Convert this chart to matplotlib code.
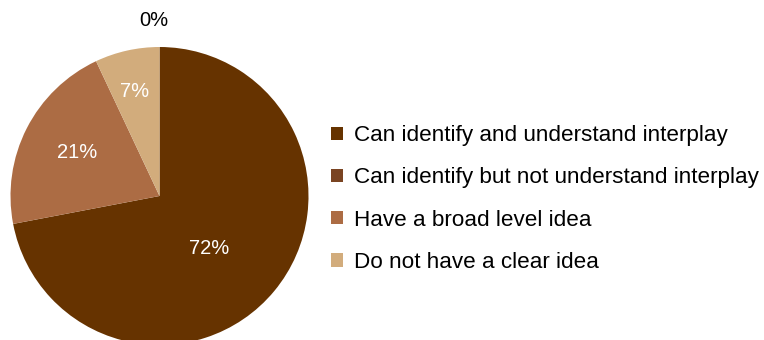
import matplotlib.pyplot as plt
from matplotlib.patches import Patch

plt.rcParams['font.family'] = ['Liberation Sans', 'DejaVu Sans']

# Survey responses (percent)
categories = [
    "Can identify and understand interplay",
    "Can identify but not understand interplay",
    "Have a broad level idea",
    "Do not have a clear idea",
]
shares = [72, 0, 21, 7]
colors = ["#663300", "#7a4422", "#ac6c44", "#d2ac7c"]

# where each percentage label sits, in pie radius units
label_xy = [(0.33, -0.35), (-0.04, 1.18), (-0.55, 0.29), (-0.17, 0.70)]
label_colors = ["white", "black", "white", "white"]

W, H = 764, 340
fig = plt.figure(figsize=(W / 100, H / 100), dpi=100)

cx, cy, r = 159.5, 196, 149
ax = fig.add_axes([(cx - r) / W, (H - cy - r) / H, 2 * r / W, 2 * r / H])
wedges, _ = ax.pie(shares, colors=colors, startangle=90, counterclock=False,
                   radius=1, wedgeprops=dict(linewidth=0))
ax.set_xlim(-1, 1)
ax.set_ylim(-1, 1)
ax.set_aspect("auto")
ax.axis("off")

for val, (x, y), c in zip(shares, label_xy, label_colors):
    ax.text(x, y, f"{val}%", color=c, fontsize=14.5, ha="center", va="center",
            clip_on=False)

handles = [Patch(facecolor=c, edgecolor="none") for c in colors]
fig.legend(handles, categories, loc="center left",
           bbox_to_anchor=(331 / W, 1 - 199 / H), frameon=False,
           fontsize=16.2, handlelength=0.55, handleheight=0.55,
           handletextpad=0.45, labelspacing=0.94, borderaxespad=0,
           borderpad=0)

fig.savefig("out.png", dpi=100)
